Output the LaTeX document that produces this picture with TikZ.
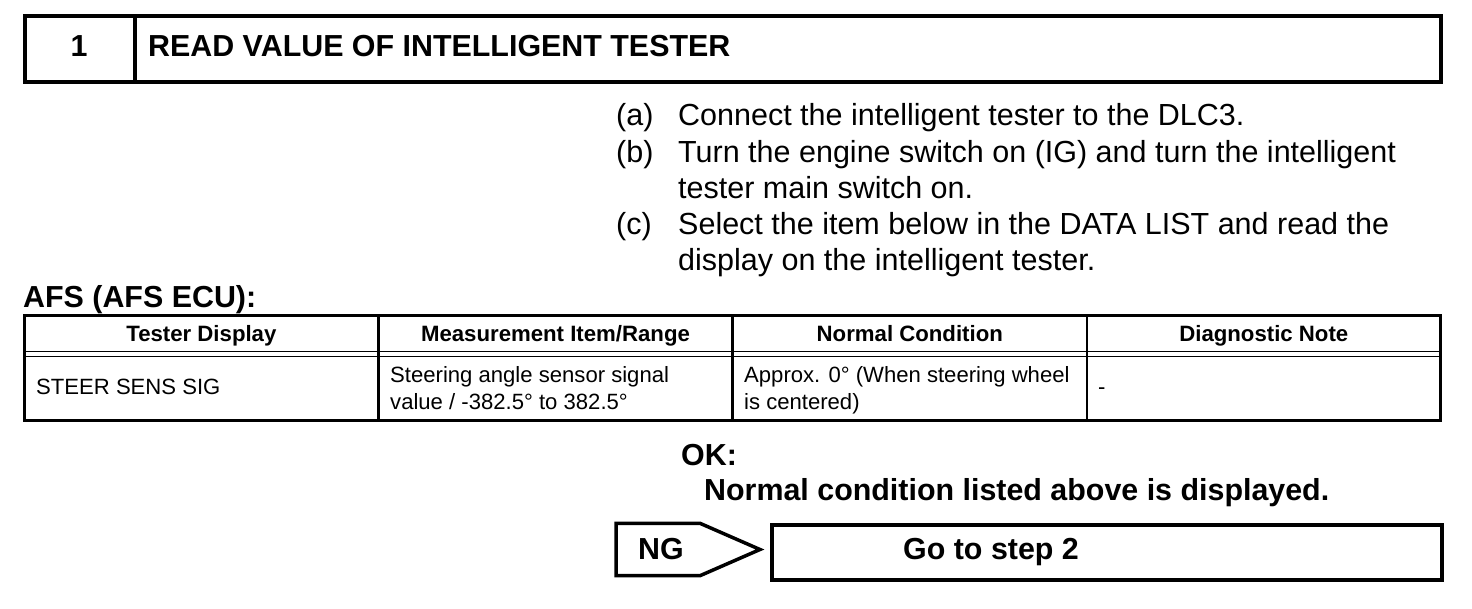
\documentclass[tikz,border=0pt]{standalone}
\usepackage{fontspec}
\setmainfont{Liberation Sans}
\tikzset{
  txt/.style={font=\fontsize{30.5}{36}\selectfont, inner sep=0pt, anchor=base west},
  txtb/.style={font=\fontsize{30.4}{36}\selectfont\bfseries, inner sep=0pt, anchor=base west},
  hcell/.style={font=\fontsize{22.2}{26.4}\selectfont\bfseries, inner sep=0pt, anchor=base},
  bcell/.style={font=\fontsize{22.1}{26.4}\selectfont, inner sep=0pt, anchor=base west},
  heavy/.style={line width=4pt},
  mid/.style={line width=3.5pt, line join=miter},
  tabline/.style={line width=2.5pt},
  dbl/.style={line width=1.7pt},
}
\begin{document}
\begin{tikzpicture}[x=1pt,y=-1pt]
\useasboundingbox (0,0) rectangle (1472,608);
% header
\draw[heavy] (24.5,16) rectangle (1441,82);
\draw[heavy] (134.5,16) -- (134.5,82);
\node[txtb, anchor=base] (num) at (79,56.5) {1};
\node[txtb] (title) at (148,56.5) {READ VALUE OF INTELLIGENT TESTER};
% steps
\node[txt] (la) at (616,125.5) {(a)};
\node[txt] (ta) at (678,125.5) {Connect the intelligent tester to the DLC3.};
\node[txt] (lb) at (616,162) {(b)};
\node[txt] (tb1) at (678,162) {Turn the engine switch on (IG) and turn the intelligent};
\node[txt] (tb2) at (678,198) {tester main switch on.};
\node[txt] (lc) at (616,234) {(c)};
\node[txt] (tc1) at (678,234) {Select the item below in the DATA LIST and read the};
\node[txt] (tc2) at (678,270.5) {display on the intelligent tester.};
% table caption
\node[txtb] (afs) at (23,307.5) {AFS (AFS ECU):};
% table
\draw[tabline] (24.3,315.5) rectangle (1440.5,420.5);
\draw[tabline] (378.5,315.5) -- (378.5,420.5);
\draw[tabline] (732.5,315.5) -- (732.5,420.5);
\draw[tabline] (1087,315.5) -- (1087,420.5);
\draw[dbl] (24.3,351.5) -- (1440.5,351.5);
\draw[dbl] (24.3,356.5) -- (1440.5,356.5);
\node[hcell] (h1) at (201.4,341.5) {Tester Display};
\node[hcell] (h2) at (555.5,341.5) {Measurement Item/Range};
\node[hcell] (h3) at (909.8,341.5) {Normal Condition};
\node[hcell] (h4) at (1263.8,341.5) {Diagnostic Note};
\node[bcell] (c1) at (36,394) {STEER SENS SIG};
\node[bcell] (c2a) at (390,382) {Steering angle sensor signal};
\node[bcell] (c2b) at (390,409) {value / -382.5° to 382.5°};
\node[bcell] (c3a) at (744,382) {Approx. 0° (When steering wheel};
\node[bcell] (c3b) at (744,409) {is centered)};
\node[bcell] (c4) at (1098,394) {-};
% OK
\node[txtb] (ok) at (681,465) {OK:};
\node[txtb] (okt) at (704,500) {Normal condition listed above is displayed.};
% NG
\draw[mid] (616,523.3) -- (700,523.3) -- (760,549.5) -- (700,575.7) -- (616,575.7) -- cycle;
\node[txtb, anchor=base] (ng) at (661,559.5) {NG};
\draw[heavy] (772,524.5) rectangle (1442,580);
\node[txtb] (go) at (903,559.5) {Go to step 2};
\end{tikzpicture}
\end{document}
